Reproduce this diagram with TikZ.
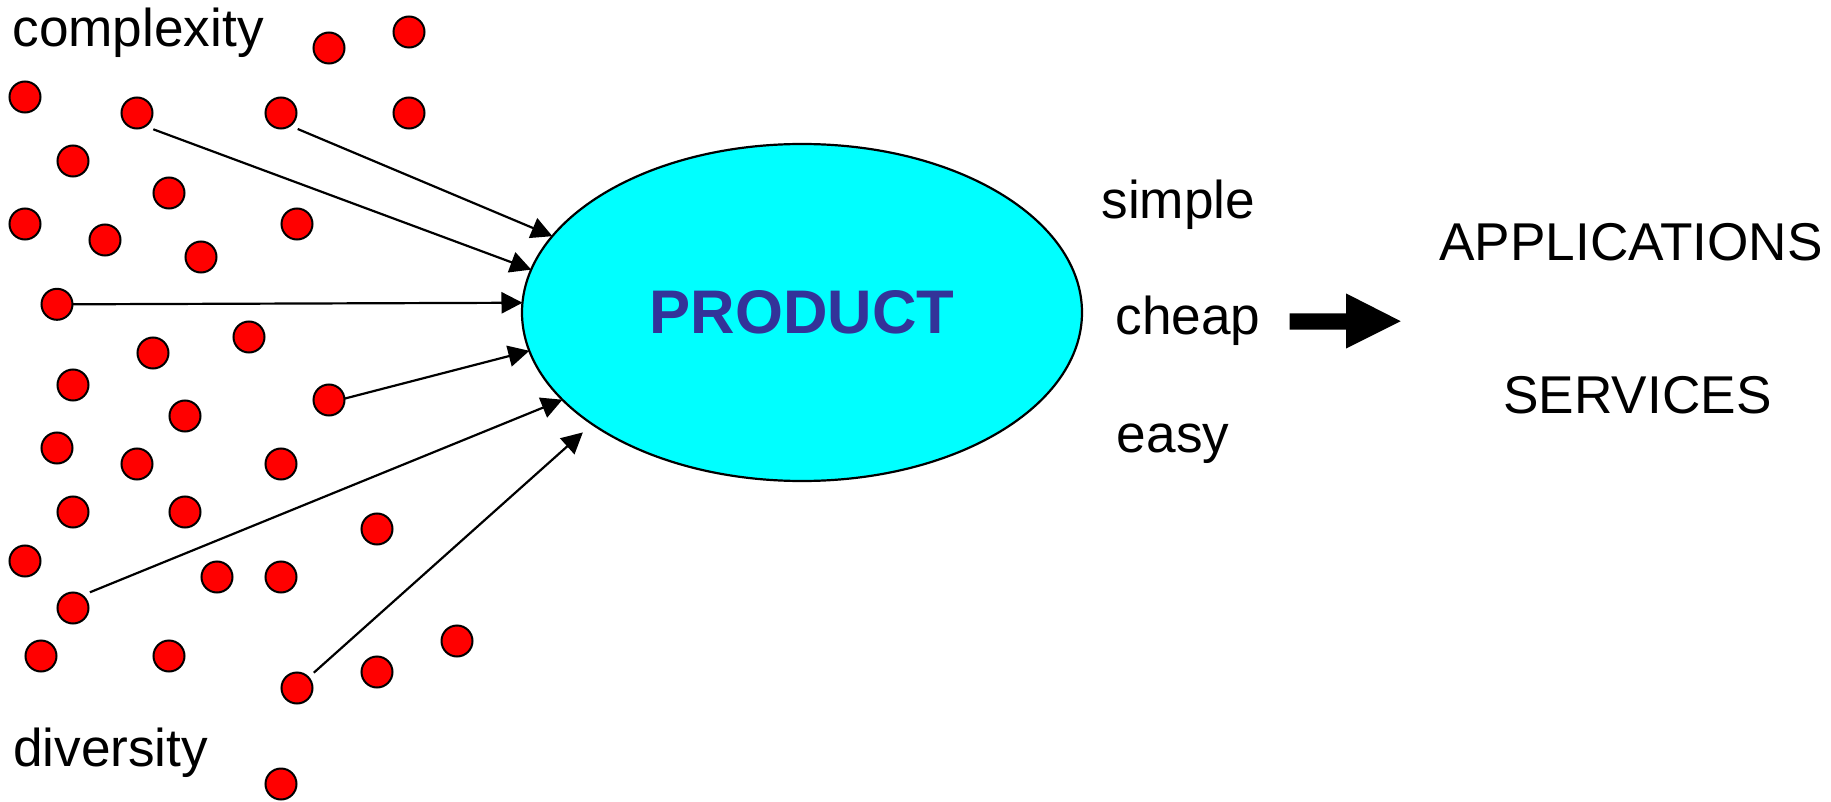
\documentclass[tikz,border=0pt]{standalone}
\usepackage{fontspec}
\setmainfont{Liberation Sans}
\usetikzlibrary{arrows.meta,shapes.geometric,calc}
\definecolor{prodfill}{HTML}{00FFFF}
\definecolor{prodtext}{HTML}{333399}
\definecolor{dotred}{HTML}{FF0000}

\begin{document}
\begin{tikzpicture}[x=0.5pt,y=-0.5pt,
  dot/.style={circle,draw=black,line width=1pt,fill=dotred,
    minimum size=15.5pt,inner sep=0pt,outer sep=0pt},
  wordtxt/.style={anchor=base west,inner sep=0pt,
    font=\fontsize{26.6pt}{30pt}\selectfont},
  feed/.style={line width=1.1pt,-{Triangle[length=10.5pt,width=10.6pt]}},
]
\useasboundingbox (0,0) rectangle (1831,802);

% scattered parts
\node[dot] (A)  at (329,48)  {};
\node[dot] (B)  at (409,32)  {};
\node[dot] (C)  at (25,97)   {};
\node[dot] (D)  at (137,113) {};
\node[dot] (E)  at (281,113) {};
\node[dot] (F)  at (409,113) {};
\node[dot] (G)  at (73,161)  {};
\node[dot] (H)  at (169,193) {};
\node[dot] (I)  at (25,224)  {};
\node[dot] (J)  at (105,240) {};
\node[dot] (K)  at (297,224) {};
\node[dot] (L)  at (201,257) {};
\node[dot] (M)  at (57,304.3) {};
\node[dot] (N)  at (249,337) {};
\node[dot] (O)  at (153,353) {};
\node[dot] (P)  at (73,385)  {};
\node[dot] (Q)  at (329,400) {};
\node[dot] (R)  at (185,416) {};
\node[dot] (S)  at (57,448)  {};
\node[dot] (T)  at (137,464) {};
\node[dot] (U)  at (281,464) {};
\node[dot] (V)  at (73,512)  {};
\node[dot] (W)  at (185,512) {};
\node[dot] (X)  at (377,529) {};
\node[dot] (Y)  at (25,561)  {};
\node[dot] (Z)  at (217,577) {};
\node[dot] (AA) at (281,577) {};
\node[dot] (AB) at (73,608)  {};
\node[dot] (AC) at (41,656)  {};
\node[dot] (AD) at (169,656) {};
\node[dot] (AE) at (457,641) {};
\node[dot] (AF) at (377,672) {};
\node[dot] (AG) at (297,688) {};
\node[dot] (AH) at (281,784) {};

% the product
\node[ellipse,draw=black,line width=1.1pt,fill=prodfill,
  minimum width=280pt,minimum height=168.5pt,inner sep=0pt,outer sep=0pt,
  text=prodtext,font=\fontsize{30.8pt}{36pt}\selectfont\bfseries]
  (prod) at (802,312.5) {PRODUCT};

% parts feeding the product
\draw[feed] ([shift={(16.7,16)}]E.center) -- (prod.163.4);
\draw[feed] ([shift={(16.3,16.3)}]D.center) -- (prod.171.25);
\draw[feed] (M.east) -- (prod.178.3);
\draw[feed] (Q.5) -- (prod.188.7);
\draw[feed] ([shift={(16.9,-15.7)}]AB.center) -- (prod.200.9);
\draw[feed,shorten >=6.25pt] ([shift={(16.8,-15.3)}]AG.center) -- (prod.208.3);

% labels
\node[wordtxt] (cx) at (12,46.7)  {complexity};
\node[wordtxt] (dv) at (12.7,766.7) {diversity};
\node[wordtxt] (sm) at (1101,219)   {simple};
\node[wordtxt] (ch) at (1115,335)   {cheap};
\node[wordtxt] (es) at (1116.5,452.5) {easy};
\node[wordtxt,anchor=base] (ap) at (1631,261)   {APPLICATIONS};
\node[wordtxt,anchor=base] (sv) at (1637.5,413.3) {SERVICES};

% block arrow
\fill (1289.5,313.3) -- (1346.2,313.3) -- (1346.2,293.5) -- (1400.7,321.2)
  -- (1346.2,348.5) -- (1346.2,329.5) -- (1289.5,329.5) -- cycle;
\end{tikzpicture}
\end{document}
